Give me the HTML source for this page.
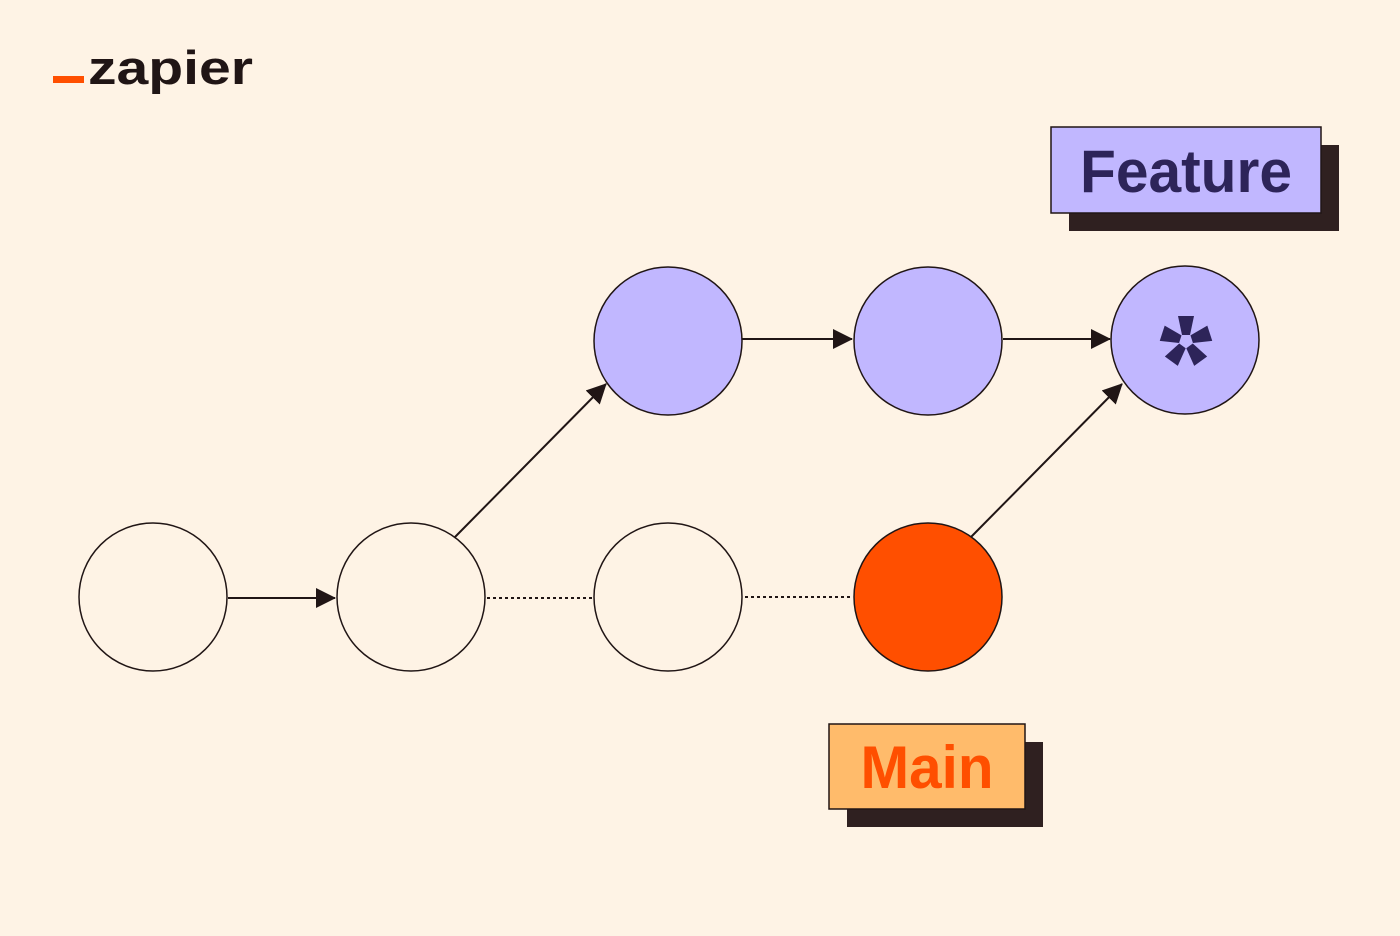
<!DOCTYPE html>
<html><head><meta charset="utf-8"><style>html,body{margin:0;padding:0;background:#fef3e5;}svg{display:block}</style></head>
<body>
<svg width="1400" height="936" viewBox="0 0 1400 936" xmlns="http://www.w3.org/2000/svg">
<defs>
<marker id="ah" markerWidth="10" markerHeight="10" refX="9" refY="5" orient="auto" markerUnits="userSpaceOnUse" viewBox="0 0 10 10">
<path d="M0,0 L10,5 L0,10 z" fill="#201515"/>
</marker>
<marker id="ah2" markerWidth="20" markerHeight="20" refX="19" refY="10" orient="auto" markerUnits="userSpaceOnUse" viewBox="0 0 20 20">
<path d="M0,0 L20,10 L0,20 z" fill="#201515"/>
</marker>
</defs>
<rect width="1400" height="936" fill="#fef3e5"/>
<!-- logo -->
<rect x="53" y="76" width="31" height="7" fill="#ff4f00"/>
<text x="88" y="84" font-family="Liberation Sans, sans-serif" font-weight="bold" font-size="47" fill="#201515" textLength="165" lengthAdjust="spacingAndGlyphs">zapier</text>
<!-- connectors -->
<g stroke="#201515" stroke-width="2" fill="none">
<line x1="228" y1="598" x2="335" y2="598" marker-end="url(#ah2)"/>
<line x1="455" y1="537" x2="606" y2="384" marker-end="url(#ah2)"/>
<line x1="742" y1="339" x2="852" y2="339" marker-end="url(#ah2)"/>
<line x1="1003" y1="339" x2="1110" y2="339" marker-end="url(#ah2)"/>
<line x1="971" y1="537" x2="1122" y2="384" marker-end="url(#ah2)"/>
<line x1="487" y1="598" x2="594" y2="598" stroke-dasharray="3,3"/>
<line x1="745" y1="597" x2="852" y2="597" stroke-dasharray="3,3"/>
</g>
<!-- circles -->
<g stroke="#201515" stroke-width="1.5">
<circle cx="153" cy="597" r="74" fill="#fef3e5"/>
<circle cx="411" cy="597" r="74" fill="#fef3e5"/>
<circle cx="668" cy="597" r="74" fill="#fef3e5"/>
<circle cx="928" cy="597" r="74" fill="#ff4f00"/>
<circle cx="668" cy="341" r="74" fill="#c1b7ff"/>
<circle cx="928" cy="341" r="74" fill="#c1b7ff"/>
<circle cx="1185" cy="340" r="74" fill="#c1b7ff"/>
</g>
<!-- asterisk -->
<g transform="translate(1186,341)" fill="#2d2459">
<polygon points="-4,-6 4,-6 8,-25 -8,-25" transform="rotate(0)"/>
<polygon points="-4,-6 4,-6 8,-25 -8,-25" transform="rotate(72)"/>
<polygon points="-4,-6 4,-6 8,-25 -8,-25" transform="rotate(144)"/>
<polygon points="-4,-6 4,-6 8,-25 -8,-25" transform="rotate(216)"/>
<polygon points="-4,-6 4,-6 8,-25 -8,-25" transform="rotate(288)"/>
</g>
<!-- Feature label -->
<rect x="1069" y="145" width="270" height="86" fill="#2f2020"/>
<rect x="1051" y="127" width="270" height="86" fill="#c1b7ff" stroke="#201515" stroke-width="1.5"/>
<text x="1186" y="192" text-anchor="middle" font-family="Liberation Sans, sans-serif" font-weight="bold" font-size="60" fill="#2d2459" textLength="212" lengthAdjust="spacingAndGlyphs">Feature</text>
<!-- Main label -->
<rect x="847" y="742" width="196" height="85" fill="#2f2020"/>
<rect x="829" y="724" width="196" height="85" fill="#ffbb6b" stroke="#201515" stroke-width="1.5"/>
<text x="927" y="788" text-anchor="middle" font-family="Liberation Sans, sans-serif" font-weight="bold" font-size="60" fill="#ff4f00" textLength="133" lengthAdjust="spacingAndGlyphs">Main</text>
</svg>
</body></html>
